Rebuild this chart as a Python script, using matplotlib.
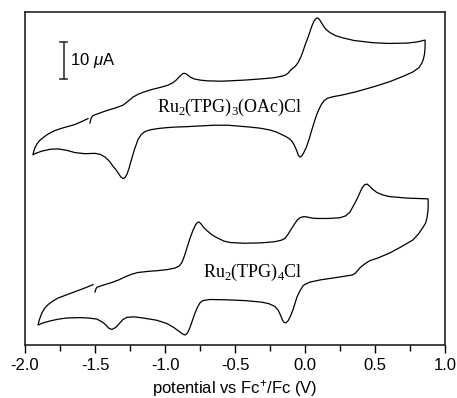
import matplotlib
matplotlib.use("Agg")
import matplotlib.pyplot as plt
from matplotlib.ticker import MultipleLocator

plt.rcParams['mathtext.fontset'] = 'custom'
plt.rcParams['mathtext.rm'] = 'Liberation Serif'
plt.rcParams['mathtext.it'] = 'Liberation Sans:italic'
plt.rcParams['mathtext.sf'] = 'Liberation Sans'
plt.rcParams['font.family'] = ['Liberation Sans', 'DejaVu Sans']

# Ru2(TPG)3(OAc)Cl trace: potential (V vs Fc+/Fc), current (uA, arbitrary offset)
v_oac = [-1.536, -1.528, -1.515, -1.486, -1.429, -1.36, -1.30, -1.26, -1.229, -1.19,
         -1.157, -1.10, -1.036, -0.98, -0.943, -0.92, -0.895, -0.871, -0.855, -0.836,
         -0.815, -0.79, -0.75, -0.70, -0.60, -0.536, -0.43, -0.321, -0.23, -0.17,
         -0.143, -0.12, -0.10, -0.07, -0.05, -0.03, -0.014, 0.0, 0.02, 0.036,
         0.05, 0.065, 0.08, 0.09, 0.10, 0.115, 0.13, 0.15, 0.179, 0.22,
         0.271, 0.35, 0.486, 0.60, 0.729, 0.80, 0.857,
         0.858, 0.857, 0.853, 0.845, 0.836, 0.815, 0.771, 0.70, 0.607, 0.50,
         0.371, 0.27, 0.20, 0.16, 0.135, 0.115, 0.10, 0.086, 0.068, 0.05,
         0.03, 0.01, -0.01, -0.025, -0.036, -0.048, -0.06, -0.075, -0.09, -0.107,
         -0.13, -0.157, -0.20, -0.25, -0.32, -0.393, -0.55, -0.65, -0.75, -0.85,
         -0.929, -1.0, -1.05, -1.10, -1.143, -1.17, -1.193, -1.215, -1.236, -1.255,
         -1.271, -1.287, -1.300, -1.315, -1.335, -1.355, -1.371, -1.40, -1.429, -1.46,
         -1.50, -1.571, -1.643, -1.70, -1.764, -1.82, -1.879, -1.91, -1.935, -1.943,
         -1.938, -1.929, -1.915, -1.895, -1.865, -1.836, -1.79, -1.736, -1.69, -1.643,
         -1.60, -1.55]
i_oac = [60.0, 61.3, 62.0, 62.4, 63.2, 64.0, 64.8, 66.0, 67.0, 67.8,
         68.3, 69.0, 69.6, 70.2, 70.9, 71.6, 72.6, 73.4, 73.4, 72.9,
         72.3, 71.9, 71.6, 71.4, 71.3, 71.4, 71.6, 71.9, 72.2, 72.6,
         72.9, 73.5, 74.4, 75.3, 76.3, 77.8, 79.4, 81.0, 83.0, 84.8,
         86.3, 87.6, 88.3, 88.4, 88.1, 87.3, 86.3, 85.3, 84.4, 83.6,
         83.0, 82.3, 81.7, 81.5, 81.6, 81.9, 82.4,
         81.0, 80.0, 78.5, 77.2, 76.3, 75.0, 73.8, 72.6, 71.2, 69.9,
         68.5, 67.6, 67.1, 66.7, 66.0, 64.9, 63.7, 62.5, 60.5, 58.3,
         55.7, 53.5, 51.9, 51.0, 50.8, 51.3, 52.6, 53.9, 54.9, 55.6,
         56.2, 56.7, 57.5, 58.1, 58.6, 58.9, 59.4, 59.4, 59.2, 59.0,
         58.9, 58.7, 58.5, 58.2, 57.7, 56.9, 55.5, 53.2, 50.6, 48.0,
         46.2, 45.2, 45.0, 45.4, 46.5, 47.6, 48.3, 49.8, 50.8, 51.5,
         51.8, 51.7, 52.0, 52.6, 53.0, 52.9, 52.4, 52.0, 51.6, 51.4,
         52.3, 53.3, 54.3, 55.3, 56.2, 57.0, 57.9, 58.6, 59.1, 59.6,
         60.3, 61.2]

# Ru2(TPG)4Cl trace
v_tpg = [-1.500, -1.493, -1.486, -1.44, -1.379, -1.33, -1.286, -1.24, -1.193, -1.12,
         -1.05, -0.98, -0.929, -0.90, -0.879, -0.862, -0.843, -0.82, -0.80, -0.78,
         -0.765, -0.755, -0.74, -0.72, -0.70, -0.665, -0.629, -0.58, -0.536, -0.43,
         -0.314, -0.22, -0.17, -0.143, -0.12, -0.107, -0.08, -0.055, -0.036, -0.01,
         0.014, 0.05, 0.086, 0.17, 0.25, 0.29, 0.321, 0.345, 0.371, 0.39,
         0.407, 0.425, 0.443, 0.46, 0.48, 0.514, 0.56, 0.607, 0.729, 0.80,
         0.879,
         0.880, 0.879, 0.872, 0.862, 0.843, 0.81, 0.771, 0.69, 0.607, 0.52,
         0.464, 0.43, 0.393, 0.36, 0.336, 0.27, 0.20, 0.11, 0.036, 0.0,
         -0.014, -0.035, -0.057, -0.072, -0.086, -0.105, -0.12, -0.136, -0.15, -0.16,
         -0.171, -0.19, -0.214, -0.26, -0.314, -0.43, -0.55, -0.68, -0.73, -0.75,
         -0.771, -0.79, -0.807, -0.825, -0.842, -0.857, -0.875, -0.90, -0.94, -0.986,
         -1.06, -1.157, -1.22, -1.271, -1.30, -1.321, -1.35, -1.379, -1.40, -1.42,
         -1.443, -1.486, -1.55, -1.607, -1.70, -1.76, -1.821, -1.87, -1.907,
         -1.902, -1.893, -1.879, -1.86, -1.836, -1.80, -1.764, -1.70, -1.643, -1.58,
         -1.514]
i_tpg = [14.3, 15.2, 15.6, 16.2, 16.9, 17.6, 18.4, 19.1, 19.6, 19.9,
         20.1, 20.4, 20.8, 21.3, 22.3, 24.0, 26.3, 29.0, 31.0, 32.6,
         33.2, 33.2, 32.6, 31.6, 30.9, 29.8, 29.0, 28.1, 27.7, 27.5,
         27.6, 27.9, 28.3, 28.8, 30.0, 30.8, 32.4, 33.8, 34.4, 34.7,
         34.6, 34.3, 34.2, 34.2, 34.4, 34.9, 35.9, 37.6, 39.4, 41.0,
         42.4, 43.3, 43.5, 43.0, 42.2, 41.2, 40.5, 40.1, 39.7, 39.6,
         39.5,
         38.0, 36.5, 34.5, 33.0, 31.8, 30.0, 28.4, 26.6, 24.9, 23.5,
         22.8, 22.0, 20.9, 19.4, 18.9, 18.5, 18.1, 17.6, 17.0, 16.4,
         16.0, 14.7, 13.0, 11.2, 9.5, 7.7, 6.6, 6.0, 6.1, 6.7,
         7.7, 9.3, 10.4, 11.2, 11.6, 12.0, 12.2, 12.3, 12.0, 11.4,
         10.0, 8.2, 6.3, 4.4, 3.1, 2.7, 3.0, 3.7, 4.8, 5.8,
         6.7, 7.3, 7.6, 7.5, 6.9, 6.0, 4.8, 4.2, 4.5, 5.3,
         6.1, 7.0, 7.3, 7.4, 7.3, 7.0, 6.5, 6.0, 5.4,
         6.2, 7.3, 8.7, 9.9, 10.9, 11.9, 12.7, 13.6, 14.4, 15.3,
         16.3]

label_oac = r'Ru$_2$(TPG)$_3$(OAc)Cl'
label_tpg = r'Ru$_2$(TPG)$_4$Cl'
scale_ua = 10
xlabel = r'potential vs Fc$^{\mathsf{+}}$/Fc (V)'

fig = plt.figure(figsize=(4.57, 3.98), dpi=100)
ax = fig.add_axes([25/457, 53/398, 420/457, 333/398])

ax.plot(v_oac, i_oac, color='black', lw=0.9, solid_joinstyle='round')
ax.plot(v_tpg, i_tpg, color='black', lw=0.9, solid_joinstyle='round')

# scale bar
sb_x = -1.722
sb_y0 = 72.0
ax.plot([sb_x, sb_x], [sb_y0, sb_y0 + scale_ua], color='#333333', lw=1.2)
ax.plot([sb_x - 0.025, sb_x + 0.025], [sb_y0, sb_y0], color='#333333', lw=1.2)
ax.plot([sb_x - 0.025, sb_x + 0.025], [sb_y0 + scale_ua, sb_y0 + scale_ua], color='#333333', lw=1.2)
ax.text(-1.679, sb_y0 + scale_ua / 2, r'%d $\mu$A' % scale_ua, fontsize=12,
        va='center', ha='left', family='Liberation Sans')

ax.text(-1.057, 63.0, label_oac, fontsize=13, family='Liberation Serif',
        ha='left', va='baseline')
ax.text(-0.729, 18.4, label_tpg, fontsize=13, family='Liberation Serif',
        ha='left', va='baseline')

ax.set_xlim(-2.0, 1.0)
ax.set_ylim(0, 90)
ax.xaxis.set_major_locator(MultipleLocator(0.5))
ax.xaxis.set_minor_locator(MultipleLocator(0.25))
ax.xaxis.set_major_formatter(plt.FuncFormatter(lambda v, p: '%.1f' % v))
ax.set_yticks([])
ax.tick_params(axis='x', which='major', direction='out', length=6, width=1,
               labelsize=12, pad=3)
ax.tick_params(axis='x', which='minor', direction='out', length=4, width=1)
for s in ax.spines.values():
    s.set_linewidth(1.2)
    s.set_color('#222222')
ax.set_xlabel(xlabel, fontsize=12, labelpad=4)

fig.savefig('out.png', dpi=100)
